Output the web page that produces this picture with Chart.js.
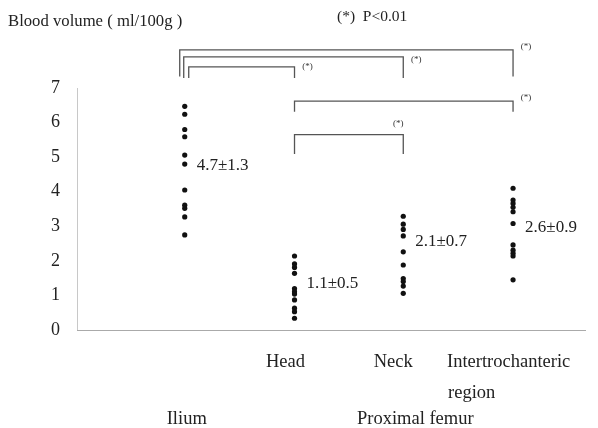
<!DOCTYPE html>
<html>
<head>
<meta charset="utf-8">
<script src="https://cdn.jsdelivr.net/npm/chart.js@4/dist/chart.umd.min.js"></script>
<style>
html,body{margin:0;padding:0;background:#fff;}
#wrap{width:598px;height:428px;position:relative;}
</style>
</head>
<body>
<div id="wrap"><canvas id="c" width="598" height="428"></canvas></div>
<script>
// ---- data ----
const categories = ["Ilium", "Head", "Neck", "Intertrochanteric region"];
const groupX = [1.05, 2.12, 3.18, 4.25];
const iliumValues = [6.47, 6.24, 5.80, 5.59, 5.06, 4.80, 4.05, 3.61, 3.52, 3.27, 2.75];
const headValues = [2.14, 1.91, 1.81, 1.64, 1.20, 1.11, 1.04, 0.87, 0.63, 0.53, 0.34];
const neckValues = [3.29, 3.06, 2.91, 2.72, 2.26, 1.88, 1.49, 1.40, 1.27, 1.06];
const interValues = [4.10, 3.76, 3.66, 3.55, 3.42, 3.08, 2.46, 2.31, 2.22, 2.14, 1.45];
const meanLabels = ["4.7±1.3", "1.1±0.5", "2.1±0.7", "2.6±0.9"];
const yTicks = [0, 1, 2, 3, 4, 5, 6, 7];
// significance brackets: [fromGroup, toGroup, barLevel, legBottomLevel]
const brackets = [
  [0, 3, 8.10, 7.33],
  [0, 2, 7.90, 7.29],
  [0, 1, 7.61, 7.29],
  [1, 3, 6.62, 6.31],
  [1, 2, 5.65, 5.09]
];
const groupValues = [iliumValues, headValues, neckValues, interValues];

const serif = "'Liberation Serif', 'Times New Roman', serif";

const datasets = groupValues.map((vals, i) => ({
  label: categories[i],
  data: vals.map(v => ({x: groupX[i], y: v})),
  pointRadius: 2.6,
  pointHoverRadius: 2.6,
  pointBackgroundColor: '#111',
  pointBorderColor: '#111',
  borderWidth: 0,
  showLine: false
}));

const overlay = {
  id: 'overlay',
  afterDraw(chart) {
    const ctx = chart.ctx;
    const xs = chart.scales.x, ys = chart.scales.y;
    const ca = chart.chartArea;
    ctx.save();
    // baseline
    ctx.strokeStyle = '#aaa';
    ctx.lineWidth = 1;
    ctx.beginPath();
    const y0 = Math.round(ys.getPixelForValue(0)) + 0.5;
    ctx.moveTo(ca.left, y0);
    ctx.lineTo(ca.right - 4, y0);
    ctx.stroke();

    // mean labels
    ctx.fillStyle = '#222';
    ctx.font = '17px ' + serif;
    ctx.textBaseline = 'middle';
    ctx.textAlign = 'left';
    const labelY = [4.76, 1.35, 2.57, 2.96];
    meanLabels.forEach((t, i) => {
      ctx.fillText(t, xs.getPixelForValue(groupX[i]) + 12, ys.getPixelForValue(labelY[i]));
    });

    // brackets
    const leftOff = [-5, -1, 4, 0, 0];
    const starOff = [[13, -3], [13, 3], [13, 0], [13, -3], [-5, -11]];
    ctx.strokeStyle = '#555';
    ctx.lineWidth = 1.3;
    brackets.forEach((b, k) => {
      const x1 = xs.getPixelForValue(groupX[b[0]]) + leftOff[k];
      const x2 = xs.getPixelForValue(groupX[b[1]]);
      const yb = ys.getPixelForValue(b[2]);
      const yl = ys.getPixelForValue(b[3]);
      ctx.beginPath();
      ctx.moveTo(x1, yl);
      ctx.lineTo(x1, yb);
      ctx.lineTo(x2, yb);
      ctx.lineTo(x2, yl);
      ctx.stroke();
      ctx.fillStyle = '#333';
      ctx.font = '9px ' + serif;
      ctx.textAlign = 'center';
      ctx.fillText('(*)', x2 + starOff[k][0], yb + starOff[k][1]);
    });

    // category labels
    ctx.fillStyle = '#222';
    ctx.font = '18.5px ' + serif;
    ctx.textAlign = 'center';
    const base = ys.getPixelForValue(0);
    ctx.fillText('Head', xs.getPixelForValue(groupX[1]) - 9, base + 32);
    ctx.fillText('Neck', xs.getPixelForValue(groupX[2]) - 10, base + 32);
    ctx.textAlign = 'left';
    const ix = xs.getPixelForValue(groupX[3]) - 66;
    ctx.fillText('Intertrochanteric', ix, base + 32);
    ctx.fillText('region', ix + 1, base + 63);
    ctx.textAlign = 'center';
    ctx.fillText('Ilium', xs.getPixelForValue(groupX[0]) + 2, base + 89);
    ctx.fillText('Proximal femur', xs.getPixelForValue(groupX[2]) + 12, base + 89);

    // titles
    ctx.textAlign = 'left';
    ctx.font = '16.7px ' + serif;
    ctx.fillText('Blood volume ( ml/100g )', 8, 22);
    ctx.font = '15.5px ' + serif;
    ctx.fillText('(*)  P<0.01', 337, 17);
    ctx.restore();
  }
};

new Chart(document.getElementById('c'), {
  type: 'scatter',
  data: { datasets },
  options: {
    responsive: false,
    animation: false,
    events: [],
    layout: { padding: { top: 88, bottom: 98, left: 0, right: 8 } },
    plugins: { legend: { display: false }, tooltip: { enabled: false } },
    scales: {
      x: { type: 'linear', min: 0, max: 5, display: false },
      y: {
        type: 'linear', min: 0, max: 7,
        afterBuildTicks: s => { s.ticks = yTicks.map(v => ({value: v})); },
        afterFit: s => { s.width = 77; },
        grid: { display: false, drawTicks: false },
        border: { display: true, color: '#c8c8c8', width: 1 },
        ticks: { padding: 17, color: '#222', font: { family: serif, size: 18 } }
      }
    }
  },
  plugins: [overlay]
});
</script>
</body>
</html>
